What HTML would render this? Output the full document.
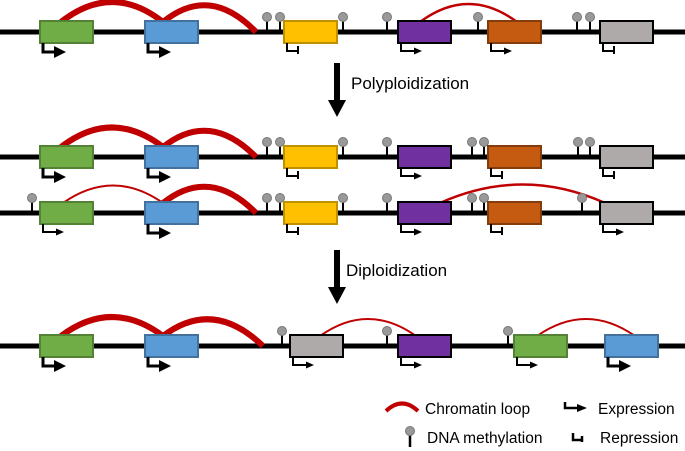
<!DOCTYPE html>
<html><head><meta charset="utf-8"><style>
html,body{margin:0;padding:0;background:#fff;}
svg{display:block;}
text{font-family:"Liberation Sans",Arial,sans-serif;fill:#000;}
</style></head><body>
<svg id="s" width="685" height="451" viewBox="0 0 685 451" xmlns="http://www.w3.org/2000/svg">
<g id="g"></g>
<text x="351" y="89" font-size="17">Polyploidization</text>
<text x="346" y="276" font-size="17">Diploidization</text>
<text x="425" y="414" font-size="15.5">Chromatin loop</text>
<text x="598" y="414" font-size="15.5">Expression</text>
<text x="427" y="443" font-size="15.5">DNA methylation</text>
<text x="600" y="443" font-size="15.5">Repression</text>
</svg>
<script>
var g=document.getElementById('g'),h='';
var C={gr:['#70ad47','#548235'],bl:['#5b9bd5','#41719c'],ye:['#ffc000','#bf9000'],pu:['#7030a0','#000'],or:['#c55a11','#843c0c'],gy:['#aeaaaa','#000']};
function row(y,boxes,pins,loops){
 h+='<line x1="0" y1="'+y+'" x2="685" y2="'+y+'" stroke="#000" stroke-width="5"/>';
 loops.forEach(function(l){h+='<path d="M'+l[0]+' '+(y-10)+' Q'+((l[0]+l[1])/2)+' '+l[2]+' '+l[1]+' '+(l[3]?y:y-10)+'" fill="none" stroke="#c00000" stroke-width="'+l[4]+'"/>';});
 pins.forEach(function(p){h+='<line x1="'+p+'" y1="'+(y-12)+'" x2="'+p+'" y2="'+y+'" stroke="#000" stroke-width="2"/><circle cx="'+p+'" cy="'+(y-15)+'" r="4.5" fill="#999" stroke="#777" stroke-width="1"/>';});
 boxes.forEach(function(b){var c=C[b[1]];var x=b[0];
  h+='<rect x="'+x+'" y="'+(y-11)+'" width="53" height="22" fill="'+c[0]+'" stroke="'+c[1]+'" stroke-width="2"/>';
  var ax=x+3,ay=y+11;
  if(b[2]=='E'){h+='<path d="M'+ax+' '+ay+' V'+(ay+9)+' H'+(ax+12)+'" fill="none" stroke="#000" stroke-width="3"/><path d="M'+(ax+11)+' '+(ay+3)+' L'+(ax+23)+' '+(ay+9)+' L'+(ax+11)+' '+(ay+15)+'Z"/>';}
  else if(b[2]=='e'){h+='<path d="M'+ax+' '+ay+' V'+(ay+8)+' H'+(ax+14)+'" fill="none" stroke="#000" stroke-width="2"/><path d="M'+(ax+13)+' '+(ay+4.5)+' L'+(ax+21)+' '+(ay+8)+' L'+(ax+13)+' '+(ay+11.5)+'Z"/>';}
  else {h+='<path d="M'+ax+' '+ay+' V'+(ay+8)+' H'+(ax+11)+' M'+(ax+11)+' '+(ay+3)+' V'+(ay+11)+'" fill="none" stroke="#000" stroke-width="2"/>';}
 });
}
row(32,[[40,'gr','E'],[145,'bl','E'],[284,'ye','r'],[398,'pu','e'],[488,'or','e'],[600,'gy','r']],[267,280,343,387,478,577,590],
 [[61,163,-18,0,6],[163,256,-16,1,6],[420,517,-14,0,2.5]]);
row(157,[[40,'gr','E'],[145,'bl','E'],[284,'ye','r'],[398,'pu','e'],[488,'or','r'],[600,'gy','r']],[267,280,343,387,472,484,578,590],
 [[61,163,108,0,6],[163,256,110,1,6]]);
row(213,[[40,'gr','e'],[145,'bl','E'],[284,'ye','r'],[398,'pu','e'],[488,'or','r'],[600,'gy','e']],[32,267,280,343,387,472,484,582],
 [[63,163,168,0,2],[163,256,166,1,6],[440,605,166,0,2.5]]);
row(346,[[40,'gr','E'],[145,'bl','E'],[290,'gy','e'],[398,'pu','e'],[514,'gr','e'],[605,'bl','E']],[282,387,508],
 [[61,163,298,0,6],[163,263,298,1,6],[320,416,302,0,2],[537,635,302,0,2]]);
// big arrows
h+='<rect x="334" y="63" width="6" height="38" /><path d="M328 100 L346 100 L337 117Z"/>';
h+='<rect x="334" y="250" width="6" height="38" /><path d="M328 287 L346 287 L337 304Z"/>';
// legend
h+='<path d="M386 411 Q402 396 418 411" fill="none" stroke="#c00000" stroke-width="4"/>';
h+='<path d="M565 402 V408 H578" fill="none" stroke="#000" stroke-width="2.5"/><path d="M577 404 L587 408 L577 412Z"/>';
h+='<line x1="410" y1="434" x2="410" y2="447" stroke="#000" stroke-width="2.5"/><circle cx="410" cy="431" r="4.5" fill="#999" stroke="#777"/>';
h+='<path d="M573 433 V440 H582 M582 436 V442" fill="none" stroke="#000" stroke-width="2.5"/>';
g.innerHTML=h;
</script>
</body></html>
